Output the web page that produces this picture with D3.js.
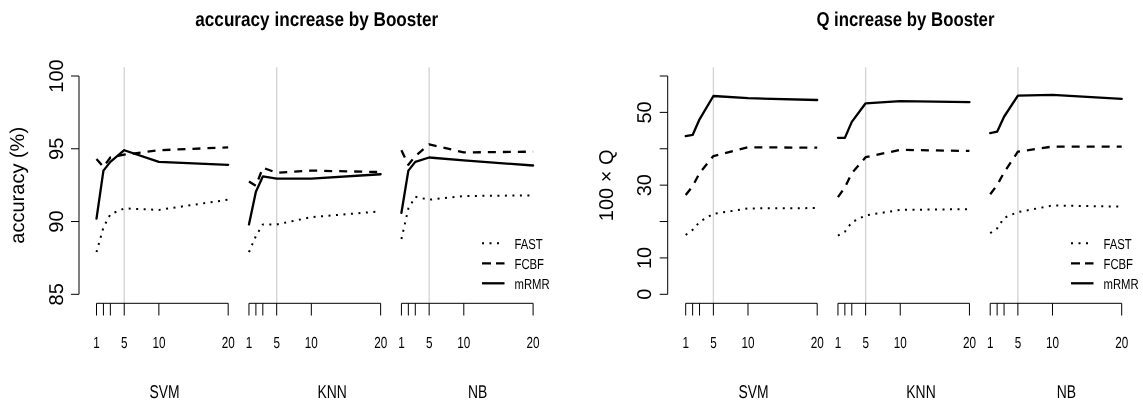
<!DOCTYPE html>
<html>
<head>
<meta charset="utf-8">
<script src="https://cdn.jsdelivr.net/npm/d3@7/dist/d3.min.js"></script>
<style>
    body { margin: 0; background: #fff; }
    svg { display: block; font-family: 'Liberation Sans', Arial, Helvetica, sans-serif; will-change: transform; }
    text { fill: #000; text-rendering: geometricPrecision; }
</style>
</head>
<body>
<svg id="chart" width="1143" height="403"></svg>
<script>
/**
 * Data.
 */
const ks = [1, 2, 3, 5, 10, 20],
    kLabels = [1, 5, 10, 20],
    kMarked = 5, // grey reference line
    classifiers = ['SVM', 'KNN', 'NB'],
    classifierOffset = 22, // x shift between classifier blocks
    classifierLabelAt = [10.8, 35, 56],
    methods = ['FAST', 'FCBF', 'mRMR'];

// accuracy (%), one row per classifier (SVM, KNN, NB), one value per k
const accFAST = [
    [87.9, 89.6, 90.5, 90.9, 90.8, 91.5],
    [87.9, 89.0, 89.8, 89.8, 90.3, 90.7],
    [88.8, 90.9, 91.7, 91.5, 91.75, 91.8]
];
const accFCBF = [
    [94.3, 93.75, 94.4, 94.6, 94.9, 95.1],
    [92.75, 92.45, 93.7, 93.35, 93.5, 93.4],
    [94.9, 93.9, 94.5, 95.3, 94.75, 94.8]
];
const accMRMR = [
    [90.2, 93.5, 94.1, 94.9, 94.1, 93.9],
    [89.8, 92.05, 93.1, 92.95, 92.95, 93.25],
    [90.6, 93.5, 94.1, 94.4, 94.2, 93.85]
];

// 100 x Q
const qFAST = [
    [16.3, 17.7, 19.9, 22.1, 23.6, 23.7],
    [16.1, 17.2, 19.8, 21.7, 23.2, 23.4],
    [16.8, 18.1, 21.0, 22.6, 24.4, 24.1]
];
const qFCBF = [
    [27.3, 29.7, 33.3, 38.0, 40.4, 40.3],
    [26.7, 29.4, 33.3, 37.7, 39.7, 39.4],
    [27.5, 30.0, 33.5, 39.2, 40.6, 40.6]
];
const qMRMR = [
    [43.5, 43.8, 48.1, 54.5, 53.9, 53.4],
    [43.0, 43.0, 47.4, 52.5, 53.1, 52.8],
    [44.3, 44.7, 48.8, 54.6, 54.8, 53.7]
];

const accTicks = [85, 90, 95, 100],
    qTicks = [0, 10, 20, 30, 40, 50, 60],
    qTickLabels = [0, 10, 30, 50];

/**
 * Visual configs.
 */
const plotTop = 67.3,
    plotBottom = 303.3,
    yTop = 76, yBottom = 294.3,
    lineStyles = {
        FAST: { dash: '2,5.5', width: 2, cap: 'butt' },
        FCBF: { dash: '8,7', width: 2.3, cap: 'butt' },
        mRMR: { dash: null, width: 2.3, cap: 'round' }
    };

const svg = d3.select('#chart');

svg.append('rect')
    .attr('width', 1143).attr('height', 403)
    .attr('fill', '#fff');

function hText(g, str, x, y, size, sx, anchor) {
    return g.append('text')
        .attr('transform', 'translate(' + x + ',' + y + ') scale(' + sx + ',1)')
        .attr('font-size', size)
        .attr('text-anchor', anchor || 'middle')
        .text(str);
}

function vText(g, str, x, y, size) {
    return g.append('text')
        .attr('transform', 'translate(' + x + ',' + y + ') rotate(-90)')
        .attr('font-size', size)
        .attr('text-anchor', 'middle')
        .text(str);
}

function drawPanel(cfg) {
    const g = svg.append('g');
    const xMax = 1 + (classifiers.length - 1) * classifierOffset + (d3.max(ks) - 1);
    const x = d3.scaleLinear().domain([1, xMax]).range(cfg.xRange);
    const y = d3.scaleLinear().domain(cfg.yDomain).range([yBottom, yTop]);
    const left = cfg.axisX,
        right = x(xMax) + (x(xMax) - x(1)) * 0.04;

    // Title
    g.append('text')
        .attr('x', (left + right) / 2 + 2)
        .attr('y', 25.7)
        .attr('font-size', 20)
        .attr('font-weight', 'bold')
        .attr('text-anchor', 'middle')
        .attr('textLength', cfg.titleWidth)
        .attr('lengthAdjust', 'spacingAndGlyphs')
        .text(cfg.title);

    // Grey reference lines
    classifiers.forEach((c, i) => {
        const xv = x(kMarked + i * classifierOffset);
        g.append('line')
            .attr('x1', xv).attr('x2', xv)
            .attr('y1', plotTop).attr('y2', plotBottom)
            .attr('stroke', '#d3d3d3')
            .attr('stroke-width', 1.3);
    });

    // Y axis
    const yAxis = g.append('g').attr('stroke', '#000').attr('stroke-width', 1);
    yAxis.append('line')
        .attr('x1', left).attr('x2', left)
        .attr('y1', y(d3.min(cfg.yTicks))).attr('y2', y(d3.max(cfg.yTicks)));
    cfg.yTicks.forEach(t => {
        yAxis.append('line')
            .attr('x1', left - 8).attr('x2', left)
            .attr('y1', y(t)).attr('y2', y(t));
    });
    cfg.yTickLabels.forEach(t => vText(g, t, left - 16.3, y(t), 20));
    vText(g, cfg.yLabel, left - 55, (plotTop + plotBottom) / 2, 20);

    // X axes, one per classifier
    classifiers.forEach((c, i) => {
        const off = i * classifierOffset;
        const ax = g.append('g').attr('stroke', '#000').attr('stroke-width', 1);
        ax.append('line')
            .attr('x1', x(1 + off)).attr('x2', x(d3.max(ks) + off))
            .attr('y1', plotBottom).attr('y2', plotBottom);
        ks.forEach(k => {
            ax.append('line')
                .attr('x1', x(k + off)).attr('x2', x(k + off))
                .attr('y1', plotBottom).attr('y2', plotBottom + 12.2);
        });
        kLabels.forEach(k => hText(g, k, x(k + off), 348.3, 16, 0.73));
        hText(g, c, x(classifierLabelAt[i]), 398.3, 18.5, 0.75);
    });

    // Series
    const line = d3.line()
        .x(d => x(d.k))
        .y(d => y(d.v));

    methods.forEach((m, mi) => {
        const st = lineStyles[m];
        cfg.series[mi].forEach((vals, ci) => {
            const pts = ks.map((k, j) => ({ k: k + ci * classifierOffset, v: vals[j] }));
            g.append('path')
                .datum(pts)
                .attr('d', line)
                .attr('fill', 'none')
                .attr('stroke', '#000')
                .attr('stroke-width', st.width)
                .attr('stroke-linecap', st.cap)
                .attr('stroke-linejoin', 'round')
                .attr('stroke-dasharray', st.dash);
        });
    });

    // Legend
    const lg = g.append('g');
    methods.forEach((m, i) => {
        const st = lineStyles[m],
            ly = 243.3 + i * 20;
        lg.append('line')
            .attr('x1', cfg.legendX).attr('x2', cfg.legendX + 22.5)
            .attr('y1', ly).attr('y2', ly)
            .attr('stroke', '#000')
            .attr('stroke-width', st.width)
            .attr('stroke-linecap', 'butt')
            .attr('stroke-dasharray', m === 'FCBF' ? '9,5' : st.dash);
        hText(lg, m, cfg.legendX + 32.5, ly + 5.2, 14.5, 0.78, 'start');
    });
}

drawPanel({
    title: 'accuracy increase by Booster',
    titleWidth: 243,
    yLabel: 'accuracy (%)',
    yDomain: [85, 100],
    yTicks: accTicks,
    yTickLabels: accTicks,
    series: [accFAST, accFCBF, accMRMR],
    axisX: 79,
    xRange: [96.5, 533.1],
    legendX: 482
});

drawPanel({
    title: 'Q increase by Booster',
    titleWidth: 178,
    yLabel: '100 × Q',
    yDomain: [0, 60],
    yTicks: qTicks,
    yTickLabels: qTickLabels,
    series: [qFAST, qFCBF, qMRMR],
    axisX: 667.7,
    xRange: [685.7, 1121.7],
    legendX: 1071
});
</script>
</body>
</html>
